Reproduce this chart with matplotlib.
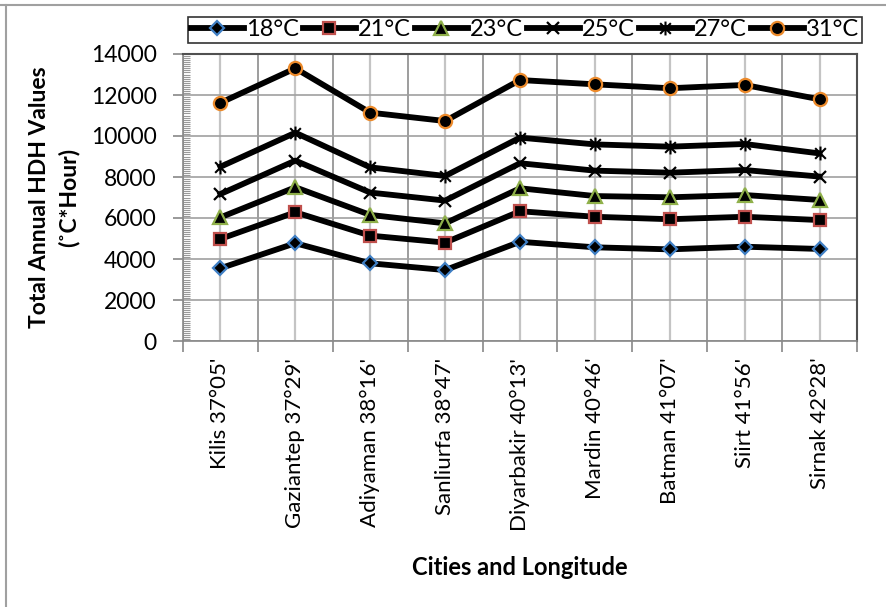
import matplotlib
matplotlib.use("Agg")
import matplotlib.pyplot as plt
from matplotlib.path import Path
from matplotlib.lines import Line2D
from matplotlib.ticker import MultipleLocator, FixedLocator, NullFormatter
import numpy as np

plt.rcParams['font.family'] = ['Lato', 'DejaVu Sans']

cities = ["Kilis 37°05'", "Gaziantep 37°29'", "Adiyaman 38°16'", "Sanliurfa 38°47'",
          "Diyarbakir 40°13'", "Mardin 40°46'", "Batman 41°07'", "Siirt 41°56'", "Sirnak 42°28'"]
s18 = [3550, 4770, 3790, 3460, 4840, 4570, 4470, 4600, 4490]
s21 = [4980, 6280, 5140, 4800, 6330, 6060, 5940, 6060, 5900]
s23 = [6030, 7500, 6150, 5740, 7450, 7070, 7010, 7120, 6880]
s25 = [7170, 8800, 7240, 6850, 8670, 8310, 8210, 8340, 8020]
s27 = [8500, 10160, 8470, 8050, 9920, 9590, 9480, 9610, 9150]
s31 = [11620, 13300, 11140, 10730, 12730, 12520, 12330, 12490, 11790]
labels = ["18°C", "21°C", "23°C", "25°C", "27°C", "31°C"]

star = Path([(-1, -1), (1, 1), (-1, 1), (1, -1), (0, -1.3), (0, 1.3)],
            [Path.MOVETO, Path.LINETO, Path.MOVETO, Path.LINETO, Path.MOVETO, Path.LINETO])

styles = [
    dict(marker='D', ms=7, mfc='black', mec='#3f7fc4', mew=1.6),
    dict(marker='s', ms=9, mfc='black', mec='#c0504d', mew=1.6),
    dict(marker='^', ms=10, mfc='black', mec='#8fb04a', mew=1.6),
    dict(marker='x', ms=9, mfc='black', mec='black', mew=1.6),
    dict(marker=star, ms=10, mfc='black', mec='black', mew=1.5),
    dict(marker='o', ms=9.5, mfc='black', mec='#ec8a2b', mew=1.6),
]

fig = plt.figure(figsize=(8.87, 6.07), dpi=100)
ax = fig.add_axes([183/887, 1-341/607, (857-183)/887, (341-54)/607])

x = np.arange(len(cities))
handles = []
for data, lab, st in zip([s18, s21, s23, s25, s27, s31], labels, styles):
    h, = ax.plot(x, data, color='black', lw=4.2, label=lab, zorder=3, **st)
    handles.append(h)

ax.set_xlim(-0.5, len(cities) - 0.5)
ax.set_ylim(0, 14000)
ax.yaxis.set_major_locator(MultipleLocator(2000))
ax.yaxis.set_minor_locator(MultipleLocator(100))
ax.tick_params(axis='y', which='major', length=7, width=1.2, color='#888888',
               labelsize=16.5, pad=12)
ax.tick_params(axis='y', which='minor', direction='in', length=5, width=0.8, color='#999999')

ax.xaxis.set_major_locator(FixedLocator(np.arange(-0.5, len(cities), 1.0)))
ax.xaxis.set_major_formatter(NullFormatter())
ax.xaxis.set_minor_locator(FixedLocator(x))
ax.set_xticklabels(cities, minor=True, rotation=90, fontsize=16)
ax.tick_params(axis='x', which='major', length=8, width=1.2, color='#888888')
ax.tick_params(axis='x', which='minor', length=0, pad=12)

ax.grid(axis='y', which='major', color='#a0a0a0', lw=1.2, zorder=0)
ax.grid(axis='x', which='major', color='#8c8c8c', lw=1.2, zorder=0)
ax.grid(axis='x', which='minor', color='#c4c4c4', lw=1.6, zorder=0)
ax.set_axisbelow(True)

for side in ['left', 'bottom']:
    ax.spines[side].set_color('#888888')
    ax.spines[side].set_linewidth(1.2)
for side in ['top', 'right']:
    ax.spines[side].set_color('#505050')
    ax.spines[side].set_linewidth(1.5)

ax.set_ylabel("Total Annual HDH Values\n(˚C*Hour)", fontsize=16.5, fontweight='bold',
              labelpad=8, linespacing=1.45)
ax.set_xlabel("Cities and Longitude", fontsize=17, fontweight='bold', labelpad=18)

leg = fig.legend(handles=handles, loc='center', bbox_to_anchor=(525/887, 1-30/607),
                 ncol=6, fontsize=17, frameon=True, fancybox=False, edgecolor='black',
                 handlelength=2.25, handletextpad=0.1, columnspacing=0.15, borderpad=0.12,
                 borderaxespad=0)
leg.get_frame().set_linewidth(1.2)

fig.add_artist(Line2D([0, 1], [1-5/607, 1-5/607], transform=fig.transFigure,
                      color='#a0a0a0', lw=1.5))
fig.add_artist(Line2D([6/887, 6/887], [0, 1-5/607], transform=fig.transFigure,
                      color='#a0a0a0', lw=1.5))

fig.savefig("out.png", dpi=100, facecolor='white')
